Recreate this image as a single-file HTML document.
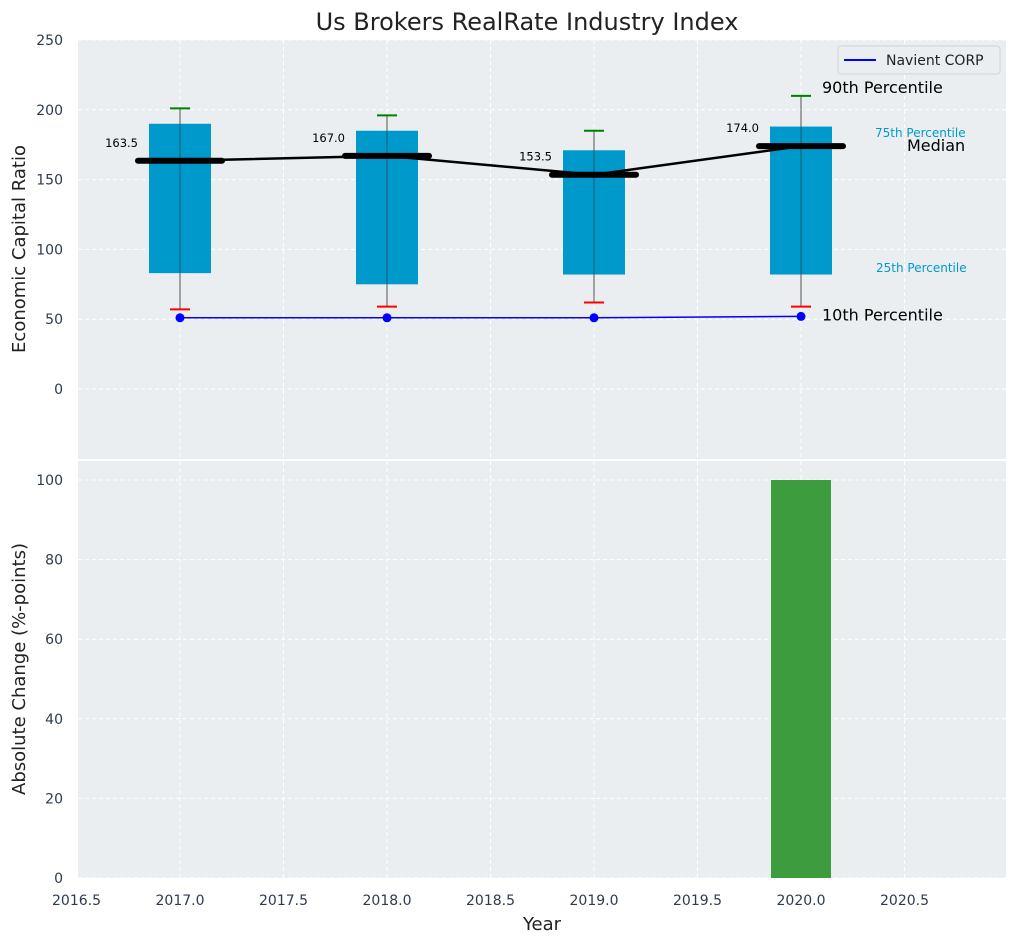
<!DOCTYPE html>
<html><head><meta charset="utf-8"><style>
body{margin:0;background:#fff;font-family:"Liberation Sans","DejaVu Sans",sans-serif;}
svg text{font-family:"DejaVu Sans","Liberation Sans",sans-serif;}
</style></head><body>
<svg id="c" width="1016" height="942" xmlns="http://www.w3.org/2000/svg"></svg>
<script>
const years=[2017,2018,2019,2020];
const p10=[57,59,62,59];
const p25=[83,75,82,82];
const med=[163.5,167.0,153.5,174.0];
const p75=[190,185,171,188];
const p90=[201,196,185,210];
const company=[51,51,51,52];
const changeYears=[2020];
const changes=[100];
const xTicks=[2016.5,2017.0,2017.5,2018.0,2018.5,2019.0,2019.5,2020.0,2020.5];
const yTopTicks=[0,50,100,150,200,250];
const yBotTicks=[0,20,40,60,80,100];

const svg=document.getElementById('c');
const NS='http://www.w3.org/2000/svg';
function el(t,a,txt){const e=document.createElementNS(NS,t);for(const k in a)e.setAttribute(k,a[k]);if(txt!==undefined)e.textContent=txt;svg.appendChild(e);return e;}
const L=78,R=1006;
const X=v=>180+(v-2017)*207;
const YT=v=>389-v*1.396;
const YB=v=>878-v*3.98;
let e;
e=el('rect',{x:L,y:40,width:R-L,height:419,fill:'#eaeef0'});

e=el('rect',{x:L,y:461,width:R-L,height:417,fill:'#eaeef0'});

xTicks.forEach(t=>{
 el('line',{x1:X(t),x2:X(t),y1:40,y2:459,stroke:'#fff','stroke-dasharray':'4,3','stroke-width':1});
 el('line',{x1:X(t),x2:X(t),y1:461,y2:878,stroke:'#fff','stroke-dasharray':'4,3','stroke-width':1});
 e=el('text',{x:X(t),y:905,'text-anchor':'middle','font-size':14,fill:'#2e3b4e'},t.toFixed(1));
 
});
yTopTicks.forEach(t=>{
 el('line',{x1:L,x2:R,y1:YT(t),y2:YT(t),stroke:'#fff','stroke-dasharray':'4,3'});
 e=el('text',{x:63,y:YT(t)+5,'text-anchor':'end','font-size':14,fill:'#2e3b4e'},t);
 
});
yBotTicks.forEach(t=>{
 el('line',{x1:L,x2:R,y1:YB(t),y2:YB(t),stroke:'#fff','stroke-dasharray':'4,3'});
 e=el('text',{x:63,y:YB(t)+5,'text-anchor':'end','font-size':14,fill:'#2e3b4e'},t);
 
});
years.forEach((y,i)=>{
 const cx=X(y);
 el('line',{x1:cx,x2:cx,y1:YT(p90[i]),y2:YT(p10[i]),stroke:'#555','stroke-width':1});
 e=el('rect',{x:cx-31,y:YT(p75[i]),width:62,height:YT(p25[i])-YT(p75[i]),fill:'#0099cc'});
 
 el('line',{x1:cx,x2:cx,y1:YT(p75[i]),y2:YT(p25[i]),stroke:'#333','stroke-width':1,opacity:0.6});
 e=el('line',{x1:cx-10,x2:cx+10,y1:YT(p90[i]),y2:YT(p90[i]),stroke:'green','stroke-width':2});
 
 e=el('line',{x1:cx-10,x2:cx+10,y1:YT(p10[i]),y2:YT(p10[i]),stroke:'red','stroke-width':2});
 
});
e=el('polyline',{points:years.map((y,i)=>X(y)+','+YT(med[i])).join(' '),fill:'none',stroke:'#000','stroke-width':2.5});

years.forEach((y,i)=>{
 e=el('line',{x1:X(y)-42,x2:X(y)+42,y1:YT(med[i]),y2:YT(med[i]),stroke:'#000','stroke-width':6,'stroke-linecap':'round'});
 
 e=el('text',{x:X(y)-42,y:YT(med[i])-14,'text-anchor':'end','font-size':11.5,fill:'#000'},med[i].toFixed(1));
 
});
e=el('polyline',{points:years.map((y,i)=>X(y)+','+YT(company[i])).join(' '),fill:'none',stroke:'blue','stroke-width':1.5});

years.forEach((y,i)=>{
 e=el('circle',{cx:X(y),cy:YT(company[i]),r:4.5,fill:'blue'});
 
});
const li=years.length-1;
function ann(x,y,txt,size,col,name){e=el('text',{x:x,y:y,'font-size':size,fill:col},txt);}
ann(X(years[li])+21,YT(p90[li])-3,'90th Percentile',16,'#000','p90-annotation');
ann(X(years[li])+21,YT(company[li])+4,'10th Percentile',16,'#000','p10-annotation');
ann(X(years[li])+106,YT(med[li])+5,'Median',16,'#000','median-annotation');
ann(875,137,'75th Percentile',12,'#0099cc','p75-annotation');
ann(876,272,'25th Percentile',12,'#0099cc','p25-annotation');
changeYears.forEach((y,i)=>{
 e=el('rect',{x:X(y)-30,y:YB(changes[i]),width:60,height:YB(0)-YB(changes[i]),fill:'#3d9c3d'});
 
});
e=el('rect',{x:838,y:46,width:162,height:28,rx:3,fill:'#eaeef0',stroke:'#d0d4d8'});

el('line',{x1:844,x2:876,y1:60,y2:60,stroke:'blue','stroke-width':2});
ann(886,65,'Navient CORP',14,'#222','legend-entry');
e=el('text',{x:527,y:30,'text-anchor':'middle','font-size':24,fill:'#222'},'Us Brokers RealRate Industry Index');

e=el('text',{x:542,y:930,'text-anchor':'middle','font-size':18,fill:'#222'},'Year');

e=el('text',{x:0,y:0,'text-anchor':'middle','font-size':18,fill:'#222',transform:'translate(25,249) rotate(-90)'},'Economic Capital Ratio');

e=el('text',{x:0,y:0,'text-anchor':'middle','font-size':18,fill:'#222',transform:'translate(25,669) rotate(-90)'},'Absolute Change (%-points)');

</script>
</body></html>
